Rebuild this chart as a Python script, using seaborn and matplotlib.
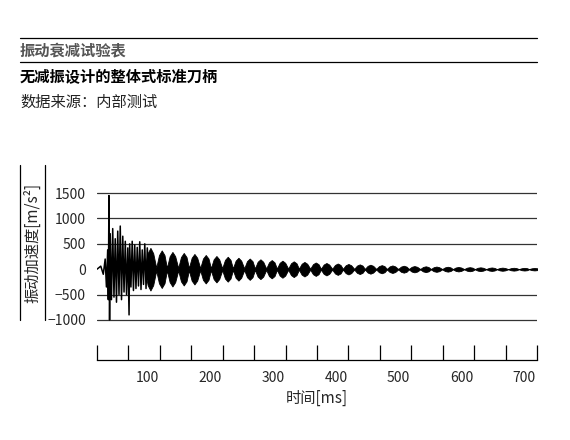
import matplotlib
matplotlib.use("Agg")
import matplotlib.pyplot as plt
import seaborn as sns
import numpy as np
from matplotlib.lines import Line2D

sns.set_theme(style="white")
plt.rcParams['font.family'] = ['Noto Sans CJK SC', 'DejaVu Sans']

# early impact spikes (ms, m/s²)
spike_t = [20, 26, 30, 33, 35, 37, 38, 39, 40, 41, 43, 45, 47, 49, 51, 53, 55, 57, 59, 61, 63, 65, 67, 69, 71, 72, 74, 76, 78, 80, 82, 84, 86, 88, 90, 92, 94, 96, 98, 100, 102]
spike_v = [0, 60, -100, 200, -350, 380, -600, 1450, -1000, 700, -600, 800, -550, 600, -650, 750, -500, 850, -600, 650, -450, 550, -500, 420, -900, 500, -350, 550, -420, 480, -380, 430, -330, 540, -400, 380, -300, 500, -380, 420, 0]

# beating decay lobes: centre time (ms) and amplitude (m/s²)
lobe_t = [105, 123, 140, 158, 175, 193, 210, 228, 245, 263, 280, 298, 315, 333, 350, 368, 385, 403,
          420, 438, 455, 473, 490, 508, 525, 543, 560, 578, 595, 613, 630, 648, 665, 683, 700, 716]
lobe_a = [420, 370, 340, 320, 300, 280, 260, 245, 225, 210, 195, 180, 168, 155, 143, 132, 122, 112,
          103, 95, 88, 80, 74, 68, 62, 57, 52, 48, 44, 40, 37, 34, 31, 28, 26, 24]

y_ticks = [1500, 1000, 500, 0, -500, -1000]
x_ticklabels = [100, 200, 300, 400, 500, 600, 700]

fig = plt.figure(figsize=(5.7, 4.4), dpi=100)
ax = fig.add_axes([97/570, 1-322/440, 440/570, 132/440])

# envelope for lobes
et, eu = [], []
offs = [-8.8, -4.4, 0, 4.4]
facs = [0.08, 0.75, 1.0, 0.75]
for c, a in zip(lobe_t, lobe_a):
    for o, f in zip(offs, facs):
        et.append(c + o); eu.append(a * f)
et.append(lobe_t[-1] + 8.8); eu.append(lobe_a[-1] * 0.08)
et = np.array(et); eu = np.array(eu)
ax.fill_between(et, -eu, eu, color='black', lw=0.6, edgecolor='black')
sns.lineplot(x=spike_t, y=spike_v, ax=ax, color='black', lw=1.1, sort=False, estimator=None)

for g in [1500, 1000, 500, -500, -1000]:
    ax.axhline(g, color='#333333', lw=0.9, zorder=0)

ax.set_xlim(20, 720)
ax.set_ylim(-1040, 1560)
ax.set_yticks(y_ticks)
ax.set_yticklabels(['1500', '1000', '500', '0', '\u2212500', '\u22121000'], fontsize=10)
ax.tick_params(axis='y', length=0, pad=8)
for s in ['top', 'right', 'left']:
    ax.spines[s].set_visible(False)
ax.spines['bottom'].set_position(('outward', 27))
ax.spines['bottom'].set_color('black')
ax.spines['bottom'].set_linewidth(0.9)
ax.set_xticks(np.arange(20, 721, 50))
ax.set_xticklabels([])
ax.tick_params(axis='x', which='major', bottom=True, direction='in', length=11, width=0.9, color='black')
for v in x_ticklabels:
    ax.annotate(str(v), xy=(v, 0), xycoords=('data', 'axes fraction'), xytext=(0, -35),
                textcoords='offset points', ha='center', va='top', fontsize=10)
ax.set_xlabel('')
fig.text(317/570, 1-398/440, '时间[ms]', ha='center', va='center', fontsize=11)

# titles
fig.add_artist(Line2D([20/570, 537/570], [1-38/440]*2, color='black', lw=0.9))
fig.add_artist(Line2D([20/570, 537/570], [1-62/440]*2, color='black', lw=0.9))
fig.text(20/570, 1-50/440, '振动衰减试验表', fontsize=11, fontweight='bold', color='#555555', va='center')
fig.text(20/570, 1-77/440, '无减振设计的整体式标准刀柄', fontsize=11, fontweight='bold', color='black', va='center')
fig.text(20/570, 1-102/440, '数据来源：内部测试', fontsize=11, color='#222222', va='center')

# y label with bracket lines
fig.add_artist(Line2D([20/570]*2, [1-165/440, 1-320/440], color='black', lw=0.9))
fig.add_artist(Line2D([45/570]*2, [1-165/440, 1-320/440], color='black', lw=0.9))
fig.text(33/570, 1-243/440, '振动加速度[m/s²]', rotation=90, ha='center', va='center', fontsize=11)

fig.savefig('out.png', dpi=100)
